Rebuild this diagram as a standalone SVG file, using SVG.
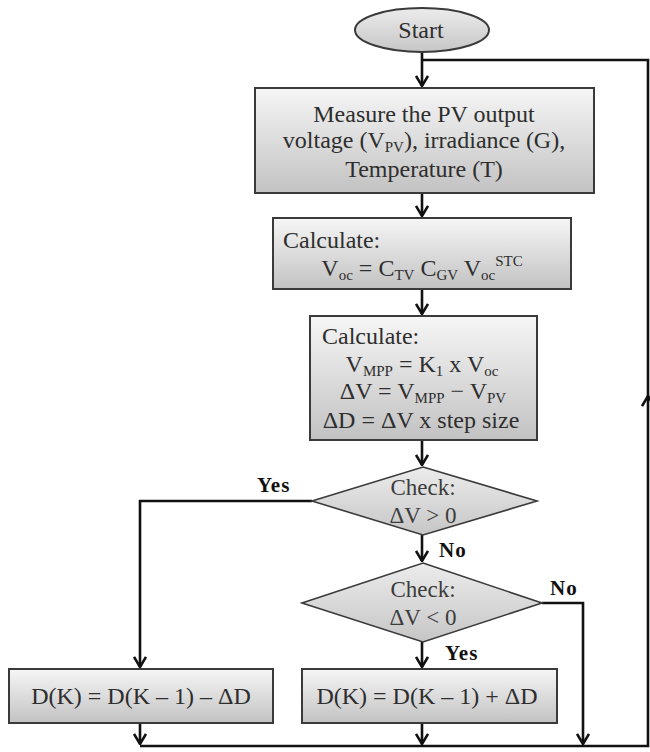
<svg xmlns="http://www.w3.org/2000/svg" width="650" height="752" viewBox="0 0 650 752">
<style>
.box{stroke:#3a3a3a;stroke-width:2;fill:url(#g)}
.dia{stroke:#3a3a3a;stroke-width:1.6;fill:url(#gd)}
.t{font-family:"Liberation Serif","DejaVu Serif",serif;font-size:24px;fill:#2e2e2e}
.td{font-family:"Liberation Serif","DejaVu Serif",serif;font-size:23px;fill:#3c3c3c}
.s{font-size:15px}
.lbl{font-family:"Liberation Serif","DejaVu Serif",serif;font-size:21px;font-weight:bold;fill:#111;letter-spacing:1px}
.c{stroke:#111;stroke-width:2.6;fill:none}
</style>
<defs>
<linearGradient id="g" x1="0" y1="0" x2="0" y2="1">
<stop offset="0" stop-color="#f6f6f6"/><stop offset="1" stop-color="#c2c2c2"/>
</linearGradient>
<linearGradient id="gd" x1="0" y1="0" x2="0" y2="1">
<stop offset="0" stop-color="#ececec"/><stop offset="1" stop-color="#c6c6c6"/>
</linearGradient>
<marker id="a" markerUnits="userSpaceOnUse" viewBox="0 0 12 14" refX="11" refY="7" markerWidth="12" markerHeight="14" orient="auto">
<path d="M1,1 L11,7 L1,13" fill="none" stroke="#111" stroke-width="2.6"/>
</marker>
</defs>

<g id="connectors">
<path class="c" d="M422,52 V86" marker-end="url(#a)"/>
<path class="c" d="M140,746 H648 V396" marker-end="url(#a)"/>
<path class="c" d="M648,400 V60 H422"/>
<path class="c" d="M422,193 V216" marker-end="url(#a)"/>
<path class="c" d="M422,289 V314" marker-end="url(#a)"/>
<path class="c" d="M422,440 V465" marker-end="url(#a)"/>
<path class="c" d="M422,535 V561" marker-end="url(#a)"/>
<path class="c" d="M312,501 H140 V667" marker-end="url(#a)"/>
<path class="c" d="M422,642 V667" marker-end="url(#a)"/>
<path class="c" d="M542,603 H583 V744" marker-end="url(#a)"/>
<path class="c" d="M140,723 V744" marker-end="url(#a)"/>
<path class="c" d="M422,723 V744" marker-end="url(#a)"/>
<text class="lbl" x="257" y="492">Yes</text>
<text class="lbl" x="439" y="557">No</text>
<text class="lbl" x="550" y="595">No</text>
<text class="lbl" x="445" y="660">Yes</text>
</g>

<g id="start">
<ellipse cx="422" cy="30" rx="67" ry="22" stroke="#3a3a3a" stroke-width="2" fill="url(#gd)"/>
<text class="t" x="421" y="38" text-anchor="middle">Start</text>
</g>

<g id="measure">
<rect class="box" x="255" y="88" width="339" height="105"/>
<text class="t" x="424" y="122" text-anchor="middle">Measure the PV output</text>
<text class="t" x="424" y="148" text-anchor="middle">voltage (V<tspan class="s" dy="4">PV</tspan><tspan dy="-4">), irradiance (G),</tspan></text>
<text class="t" x="424" y="177" text-anchor="middle">Temperature (T)</text>
</g>

<g id="calc1">
<rect class="box" x="273" y="218" width="298" height="71"/>
<text class="t" x="283" y="248">Calculate:</text>
<text class="t" x="422" y="276" text-anchor="middle">V<tspan class="s" dy="4">oc</tspan><tspan dy="-4"> = C</tspan><tspan class="s" dy="4">TV</tspan><tspan dy="-4"> C</tspan><tspan class="s" dy="4">GV</tspan><tspan dy="-4"> V</tspan><tspan class="s" dy="4">oc</tspan><tspan class="s" dy="-14">STC</tspan></text>
</g>

<g id="calc2">
<rect class="box" x="310" y="316" width="227" height="124"/>
<text class="t" x="322" y="344">Calculate:</text>
<text class="t" x="422" y="372" text-anchor="middle">V<tspan class="s" dy="4">MPP</tspan><tspan dy="-4"> = K</tspan><tspan class="s" dy="4">1</tspan><tspan dy="-4"> x V</tspan><tspan class="s" dy="4">oc</tspan></text>
<text class="t" x="423" y="399" text-anchor="middle">ΔV = V<tspan class="s" dy="4">MPP</tspan><tspan dy="-4"> − V</tspan><tspan class="s" dy="4">PV</tspan></text>
<text class="t" x="421" y="428" text-anchor="middle">ΔD = ΔV x step size</text>
</g>

<g id="check1">
<polygon class="dia" points="423,467 537,501 423,535 312,501"/>
<text class="td" x="423" y="495" text-anchor="middle">Check:</text>
<text class="td" x="423" y="523" text-anchor="middle">ΔV &gt; 0</text>
</g>

<g id="check2">
<polygon class="dia" points="423,563 542,603 423,642 302,603"/>
<text class="td" x="423" y="597" text-anchor="middle">Check:</text>
<text class="td" x="423" y="625" text-anchor="middle">ΔV &lt; 0</text>
</g>

<g id="dec">
<rect class="box" x="9" y="669" width="264" height="54"/>
<text class="t" x="141" y="704" text-anchor="middle">D(K) = D(K – 1) – ΔD</text>
</g>

<g id="inc">
<rect class="box" x="302" y="669" width="255" height="54"/>
<text class="t" x="427" y="704" text-anchor="middle">D(K) = D(K – 1) + ΔD</text>
</g>
</svg>
